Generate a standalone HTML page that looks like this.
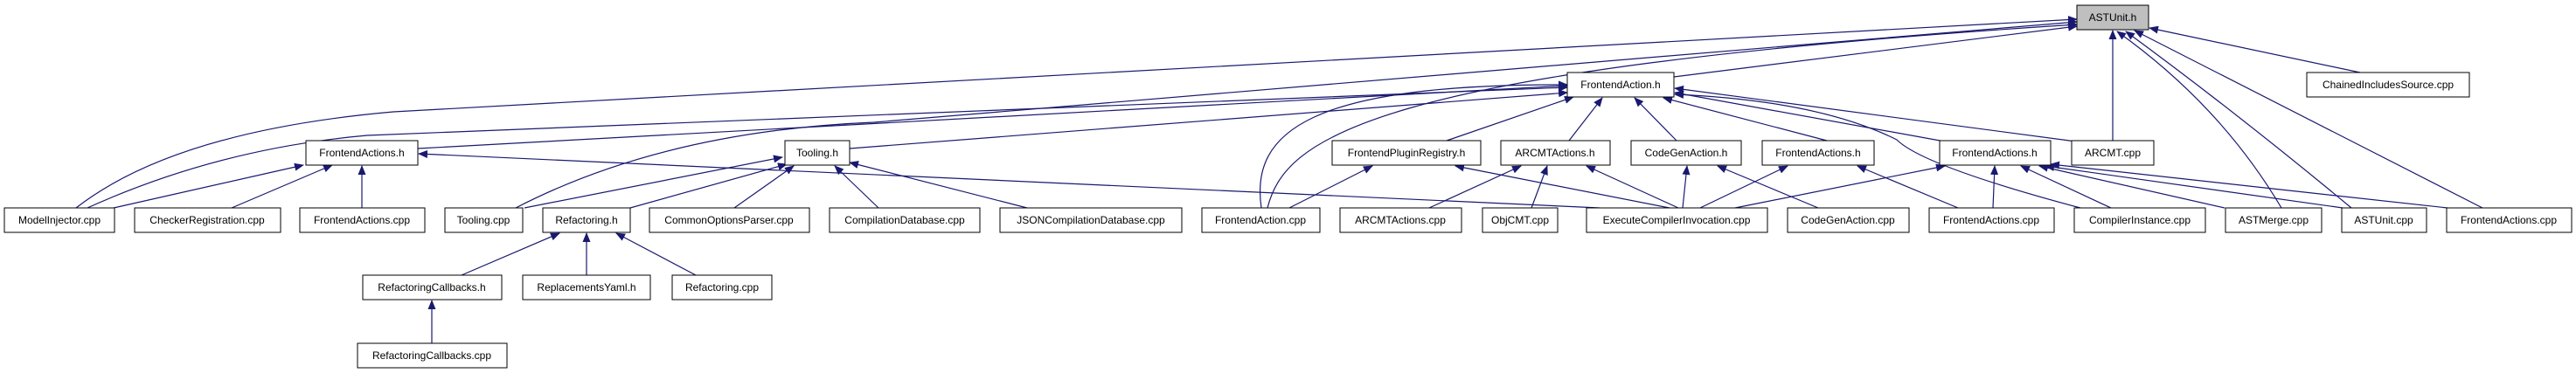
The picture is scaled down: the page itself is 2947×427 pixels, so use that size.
<!DOCTYPE html>
<html><head><meta charset="utf-8"><style>
html,body{margin:0;padding:0;background:#fff;}
svg{display:block;}
text{font-family:"Liberation Sans",sans-serif;font-size:12px;fill:#000;text-anchor:middle;}
.n{fill:#fff;stroke:#000;stroke-width:1;}
.e{fill:none;stroke:#191970;stroke-width:1.2;marker-end:url(#a);}
</style></head><body>
<svg width="2947" height="427" viewBox="0 0 2947 427" xmlns="http://www.w3.org/2000/svg">
<defs><marker id="a" markerUnits="userSpaceOnUse" markerWidth="11" markerHeight="9" refX="10" refY="4.5" orient="auto"><path d="M0,0 L11,4.5 L0,9 z" fill="#191970"/></marker></defs>
<g>
<!-- to ASTUnit.h -->
<path class="e" d="M87,238 Q200,150 450,128 L2376,22"/>
<path class="e" d="M590,238 Q760,150 1000,140 L2376,25"/>
<path class="e" d="M1450,238 C1470,160 1560,80 2376,28"/>
<path class="e" d="M1915,88 L2376,30"/>
<path class="e" d="M2417,161 L2417,35"/>
<path class="e" d="M2610,238 Q2540,120 2422,36"/>
<path class="e" d="M2690,238 Q2560,130 2432,36"/>
<path class="e" d="M2840,238 L2442,35"/>
<path class="e" d="M2700,83 L2459,32"/>
<!-- to FrontendAction.h -->
<path class="e" d="M100,238 Q250,170 420,155 L1793,100"/>
<path class="e" d="M478,170 L1793,98"/>
<path class="e" d="M972,170 L1793,106"/>
<path class="e" d="M1443,238 C1430,150 1500,96 1793,97"/>
<path class="e" d="M1655,161 L1800,111"/>
<path class="e" d="M1795,161 L1833,112"/>
<path class="e" d="M1918,161 L1870,112"/>
<path class="e" d="M2090,161 L1903,112"/>
<path class="e" d="M2225,162 L1916,106"/>
<path class="e" d="M2375,162 L1916,101"/>
<path class="e" d="M2380,238 Q2200,190 2170,160 Q2080,115 1916,108"/>
<!-- FrontendActions.h L -->
<path class="e" d="M130,238 L347,189"/>
<path class="e" d="M265,238 L380,189"/>
<path class="e" d="M414,238 L414,190"/>
<path class="e" d="M1830,238 L479,176"/>
<!-- Tooling.h -->
<path class="e" d="M600,238 L895,180"/>
<path class="e" d="M721,238 L900,188"/>
<path class="e" d="M840,238 L908,190"/>
<path class="e" d="M1005,238 L955,190"/>
<path class="e" d="M1175,238 L972,186"/>
<!-- Refactoring.h -->
<path class="e" d="M528,315 L640,267"/>
<path class="e" d="M671,315 L671,267"/>
<path class="e" d="M796,315 L705,267"/>
<path class="e" d="M494,393 L494,344"/>
<!-- FrontendPluginRegistry.h -->
<path class="e" d="M1475,238 L1570,190"/>
<path class="e" d="M1910,238 L1665,190"/>
<!-- ARCMTActions.h -->
<path class="e" d="M1635,238 L1740,190"/>
<path class="e" d="M1752,238 L1770,190"/>
<path class="e" d="M1920,238 L1815,190"/>
<!-- CodeGenAction.h -->
<path class="e" d="M1925,238 L1930,190"/>
<path class="e" d="M2080,238 L1965,190"/>
<!-- FrontendActions.h M -->
<path class="e" d="M1945,238 L2045,190"/>
<path class="e" d="M2240,238 L2125,190"/>
<!-- FrontendActions.h R -->
<path class="e" d="M1985,238 L2225,190"/>
<path class="e" d="M2280,238 L2282,190"/>
<path class="e" d="M2415,238 L2312,190"/>
<path class="e" d="M2545,238 L2333,190"/>
<path class="e" d="M2680,238 L2340,190"/>
<path class="e" d="M2800,238 L2346,188"/>
</g>
<g>
<rect x="2376" y="6" width="82" height="28" style="fill:#bfbfbf;stroke:#000"/><text x="2417" y="24">ASTUnit.h</text>
<rect class="n" x="1793" y="83" width="122" height="28"/><text x="1854" y="101">FrontendAction.h</text>
<rect class="n" x="2639" y="83" width="186" height="28"/><text x="2732" y="101">ChainedIncludesSource.cpp</text>

<rect class="n" x="350" y="161" width="128" height="28"/><text x="414" y="179">FrontendActions.h</text>
<rect class="n" x="898" y="161" width="74" height="28"/><text x="935" y="179">Tooling.h</text>
<rect class="n" x="1524" y="161" width="170" height="28"/><text x="1609" y="179">FrontendPluginRegistry.h</text>
<rect class="n" x="1717" y="161" width="125" height="28"/><text x="1779" y="179">ARCMTActions.h</text>
<rect class="n" x="1866" y="161" width="126" height="28"/><text x="1929" y="179">CodeGenAction.h</text>
<rect class="n" x="2016" y="161" width="128" height="28"/><text x="2080" y="179">FrontendActions.h</text>
<rect class="n" x="2219" y="161" width="127" height="28"/><text x="2282" y="179">FrontendActions.h</text>
<rect class="n" x="2370" y="161" width="94" height="28"/><text x="2417" y="179">ARCMT.cpp</text>

<rect class="n" x="5" y="238" width="126" height="28"/><text x="68" y="256">ModelInjector.cpp</text>
<rect class="n" x="154" y="238" width="167" height="28"/><text x="237" y="256">CheckerRegistration.cpp</text>
<rect class="n" x="343" y="238" width="143" height="28"/><text x="414" y="256">FrontendActions.cpp</text>
<rect class="n" x="509" y="238" width="89" height="28"/><text x="553" y="256">Tooling.cpp</text>
<rect class="n" x="621" y="238" width="100" height="28"/><text x="671" y="256">Refactoring.h</text>
<rect class="n" x="743" y="238" width="183" height="28"/><text x="834" y="256">CommonOptionsParser.cpp</text>
<rect class="n" x="949" y="238" width="172" height="28"/><text x="1035" y="256">CompilationDatabase.cpp</text>
<rect class="n" x="1144" y="238" width="208" height="28"/><text x="1248" y="256">JSONCompilationDatabase.cpp</text>
<rect class="n" x="1375" y="238" width="135" height="28"/><text x="1442" y="256">FrontendAction.cpp</text>
<rect class="n" x="1533" y="238" width="139" height="28"/><text x="1602" y="256">ARCMTActions.cpp</text>
<rect class="n" x="1696" y="238" width="86" height="28"/><text x="1739" y="256">ObjCMT.cpp</text>
<rect class="n" x="1815" y="238" width="207" height="28"/><text x="1918" y="256">ExecuteCompilerInvocation.cpp</text>
<rect class="n" x="2045" y="238" width="139" height="28"/><text x="2114" y="256">CodeGenAction.cpp</text>
<rect class="n" x="2207" y="238" width="143" height="28"/><text x="2278" y="256">FrontendActions.cpp</text>
<rect class="n" x="2373" y="238" width="150" height="28"/><text x="2448" y="256">CompilerInstance.cpp</text>
<rect class="n" x="2546" y="238" width="110" height="28"/><text x="2601" y="256">ASTMerge.cpp</text>
<rect class="n" x="2679" y="238" width="97" height="28"/><text x="2727" y="256">ASTUnit.cpp</text>
<rect class="n" x="2799" y="238" width="143" height="28"/><text x="2870" y="256">FrontendActions.cpp</text>

<rect class="n" x="415" y="315" width="159" height="28"/><text x="494" y="333">RefactoringCallbacks.h</text>
<rect class="n" x="598" y="315" width="146" height="28"/><text x="671" y="333">ReplacementsYaml.h</text>
<rect class="n" x="769" y="315" width="114" height="28"/><text x="826" y="333">Refactoring.cpp</text>

<rect class="n" x="409" y="393" width="171" height="28"/><text x="494" y="411">RefactoringCallbacks.cpp</text>
</g>
</svg>
</body></html>
